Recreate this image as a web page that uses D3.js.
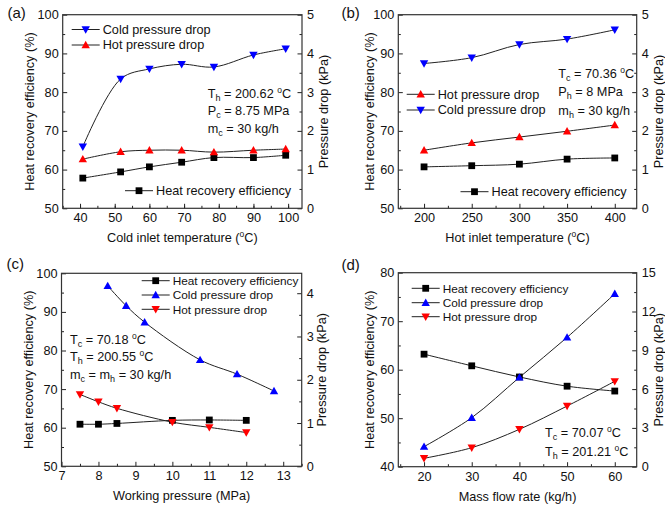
<!DOCTYPE html>
<html>
<head>
<meta charset="utf-8">
<script src="https://cdn.jsdelivr.net/npm/d3@7"></script>
<style>
  body { margin: 0; background: #fff; }
  svg { display: block; }
  text { font-family: 'Liberation Sans', Arial, sans-serif; fill: #111; }
</style>
</head>
<body>
<script>
// (a) cold inlet temperature
var aTemp = [40.8, 51.7, 60.0, 69.3, 78.6, 90.0, 99.3];
var aEff  = [57.8, 59.4, 60.7, 61.9, 63.1, 63.1, 63.7];
var aCold = [1.59, 3.34, 3.60, 3.72, 3.65, 3.96, 4.12];
var aHot  = [1.27, 1.46, 1.50, 1.50, 1.45, 1.50, 1.53];
var aXTicks = [40, 50, 60, 70, 80, 90, 100];

// (b) hot inlet temperature
var bTemp = [200, 250, 300, 350, 400];
var bEff  = [60.7, 61.0, 61.4, 62.7, 63.0];
var bCold = [3.74, 3.89, 4.23, 4.37, 4.61];
var bHot  = [1.50, 1.69, 1.84, 1.99, 2.15];
var bXTicks = [200, 250, 300, 350, 400];

// (c) working pressure
var cPres     = [7.5, 8, 8.5, 10, 11, 12];
var cPresCold = [8.25, 8.75, 9.25, 10.75, 11.75, 12.75];
var cEff  = [60.9, 60.9, 61.1, 61.9, 62.0, 61.9];
var cCold = [4.17, 3.71, 3.33, 2.46, 2.13, 1.74];
var cHot  = [1.66, 1.49, 1.34, 1.02, 0.90, 0.78];
var cXTicks = [7, 8, 9, 10, 11, 12, 13];

// (d) mass flow rate
var dFlow = [20, 30, 40, 50, 60];
var dEff  = [63.2, 60.8, 58.5, 56.6, 55.6];
var dCold = [1.55, 3.79, 6.91, 10.0, 13.37];
var dHot  = [0.65, 1.47, 2.89, 4.69, 6.6];
var dXTicks = [20, 30, 40, 50, 60];

var effTicks = [50, 60, 70, 80, 90, 100];
var effTicksD = [40, 50, 60, 70, 80];
var dpTicks = [0, 1, 2, 3, 4, 5];
var dpTicksC = [0, 1, 2, 3, 4];
var dpTicksD = [0, 3, 6, 9, 12, 15];

var BLUE = "#0000ff", RED = "#ff0000", BLACK = "#000";
var FS = 12.7;

var svg = d3.select("body").append("svg")
    .attr("width", 665)
    .attr("height", 505);

// text with sub/superscripts: parts are strings or {sub:..} / {sup:..}
function rich(g, x, y, parts, opts) {
  opts = opts || {};
  var t = g.append("text")
      .attr("x", x).attr("y", y)
      .attr("font-size", opts.size || FS)
      .attr("text-anchor", opts.anchor || "start");
  if (opts.rotate) t.attr("transform", "rotate(-90," + x + "," + y + ")");
  var shift = 0;
  parts.forEach(function(p) {
    var target = 0, size = null, s = p;
    if (typeof p === "object") {
      if ("sub" in p) { target = 3; size = 9; s = p.sub; }
      else { target = -5; size = 8.5; s = p.sup; }
    }
    var ts = t.append("tspan").attr("dy", target - shift).text(s);
    if (size) ts.attr("font-size", size);
    shift = target;
  });
  return t;
}

function marker(g, type, color, x, y) {
  var p;
  if (type === "square") p = "M-3.4,-3.4h6.8v6.8h-6.8Z";
  else if (type === "up") p = "M0,-4.2L4.2,3.2L-4.2,3.2Z";
  else p = "M0,4.2L4.2,-3.2L-4.2,-3.2Z";
  g.append("path")
      .attr("d", p)
      .attr("transform", "translate(" + x + "," + y + ")")
      .attr("fill", color);
}

function minorTicks(lo, hi, step, start) {
  var out = [];
  for (var v = start; v <= hi + 1e-9; v += step) if (v >= lo - 1e-9) out.push(+v.toFixed(4));
  return out;
}

function panel(c) {
  var g = svg.append("g");
  var x = d3.scaleLinear().domain(c.xDomain).range([c.box[0], c.box[1]]);
  var yl = d3.scaleLinear().domain(c.yDomain).range([c.box[3], c.box[2]]);
  var yr = d3.scaleLinear().domain(c.rDomain).range([c.box[3], c.box[2]]);

  // minor ticks
  g.append("g").attr("transform", "translate(0," + c.box[3] + ")")
      .call(d3.axisBottom(x).tickValues(minorTicks(c.xDomain[0], c.xDomain[1], c.xMinor[1], c.xMinor[0])).tickSize(-2.5).tickFormat(""));
  g.append("g").attr("transform", "translate(" + c.box[0] + ",0)")
      .call(d3.axisLeft(yl).tickValues(minorTicks(c.yDomain[0], c.yDomain[1], c.yMinor[1], c.yMinor[0])).tickSize(-2.5).tickFormat(""));
  g.append("g").attr("transform", "translate(" + c.box[1] + ",0)")
      .call(d3.axisRight(yr).tickValues(minorTicks(c.rDomain[0], c.rDomain[1], c.rMinor[1], c.rMinor[0])).tickSize(-2.5).tickFormat(""));

  // major ticks
  g.append("g").attr("transform", "translate(0," + c.box[3] + ")")
      .call(d3.axisBottom(x).tickValues(c.xTicks).tickSize(-4.5).tickPadding(5).tickFormat(d3.format("d")));
  g.append("g").attr("transform", "translate(" + c.box[0] + ",0)")
      .call(d3.axisLeft(yl).tickValues(c.yTicks).tickSize(-4.5).tickPadding(c.lPad).tickFormat(d3.format("d")));
  g.append("g").attr("transform", "translate(" + c.box[1] + ",0)")
      .call(d3.axisRight(yr).tickValues(c.rTicks).tickSize(-4.5).tickPadding(5).tickFormat(d3.format("d")));

  g.selectAll(".domain").remove();
  g.selectAll(".tick line").attr("stroke", "#222").attr("stroke-width", 1);
  g.selectAll(".tick text").attr("font-size", FS).attr("font-family", "'Liberation Sans', Arial, sans-serif").attr("fill", "#111");

  g.append("rect")
      .attr("x", c.box[0]).attr("y", c.box[2])
      .attr("width", c.box[1] - c.box[0]).attr("height", c.box[3] - c.box[2])
      .attr("fill", "none").attr("stroke", "#333").attr("stroke-width", 1.2);

  // axis titles (rotated ones: x is the baseline, glyphs sit to its left)
  rich(g, (c.box[0] + c.box[1]) / 2, c.box[3] + 34, c.xTitle, {anchor: "middle"});
  rich(g, c.box[0] - c.lTitle, (c.box[2] + c.box[3]) / 2, ["Heat recovery efficiency (%)"], {anchor: "middle", rotate: true});
  rich(g, c.box[1] + c.rTitle, (c.box[2] + c.box[3]) / 2, ["Pressure drop (kPa)"], {anchor: "middle", rotate: true});
  g.append("text").attr("x", c.label[0]).attr("y", c.label[1]).attr("font-size", 15).text(c.label[2]);

  var line = d3.line().curve(d3.curveCatmullRom.alpha(0.5));
  c.series.forEach(function(s) {
    var ys = s.right ? yr : yl;
    var pts = s.x.map(function(v, i) { return [x(v), ys(s.y[i])]; });
    g.append("path").attr("d", line(pts)).attr("fill", "none").attr("stroke", "#222").attr("stroke-width", 1);
  });
  c.series.forEach(function(s) {
    var ys = s.right ? yr : yl;
    s.x.forEach(function(v, i) { marker(g, s.marker, s.color, x(v), ys(s.y[i])); });
  });

  // legends
  c.legends.forEach(function(L) {
    L.items.forEach(function(it, i) {
      var yy = L.y[i];
      g.append("line").attr("x1", L.x).attr("x2", L.x + 28).attr("y1", yy).attr("y2", yy)
          .attr("stroke", "#222").attr("stroke-width", 1);
      marker(g, it.marker, it.color, L.x + 14, yy);
      g.append("text").attr("x", L.x + 31).attr("y", yy + 4.4)
          .attr("font-size", L.size || FS).text(it.label);
    });
  });

  // conditions
  c.notes.forEach(function(n, i) {
    rich(g, c.noteX, c.noteY[i] + 4.5, n);
  });
}

var effItem  = {label: "Heat recovery efficiency", marker: "square", color: BLACK};

panel({
  box: [62.7, 302, 14.7, 208.3],
  xDomain: [35, 104], yDomain: [50, 100], rDomain: [0, 5],
  xTicks: aXTicks, yTicks: effTicks, rTicks: dpTicks,
  xMinor: [35, 5], yMinor: [55, 10], rMinor: [0.5, 1],
  lPad: 4, lTitle: 29, rTitle: 26,
  xTitle: ["Cold inlet temperature (", {sup: "o"}, "C)"],
  label: [7.5, 18, "(a)"],
  series: [
    {x: aTemp, y: aEff, marker: "square", color: BLACK},
    {x: aTemp, y: aCold, right: true, marker: "down", color: BLUE},
    {x: aTemp, y: aHot, right: true, marker: "up", color: RED}
  ],
  legends: [
    {x: 71.7, y: [29.5, 45], items: [
      {label: "Cold pressure drop", marker: "down", color: BLUE},
      {label: "Hot pressure drop", marker: "up", color: RED}]},
    {x: 125, y: [190.7], items: [effItem]}
  ],
  noteX: 207.7, noteY: [93.3, 110.5, 128.3],
  notes: [
    ["T", {sub: "h"}, " = 200.62 ", {sup: "o"}, "C"],
    ["P", {sub: "c"}, " = 8.75 MPa"],
    ["m", {sub: "c"}, " = 30 kg/h"]
  ]
});

panel({
  box: [398.3, 636.7, 14.7, 208.3],
  xDomain: [173, 423], yDomain: [50, 100], rDomain: [0, 5],
  xTicks: bXTicks, yTicks: effTicks, rTicks: dpTicks,
  xMinor: [175, 50], yMinor: [55, 10], rMinor: [0.5, 1],
  lPad: 4, lTitle: 24.5, rTitle: 26,
  xTitle: ["Hot inlet temperature (", {sup: "o"}, "C)"],
  label: [341.5, 18, "(b)"],
  series: [
    {x: bTemp, y: bEff, marker: "square", color: BLACK},
    {x: bTemp, y: bCold, right: true, marker: "down", color: BLUE},
    {x: bTemp, y: bHot, right: true, marker: "up", color: RED}
  ],
  legends: [
    {x: 406.7, y: [94.3, 110], items: [
      {label: "Hot pressure drop", marker: "up", color: RED},
      {label: "Cold pressure drop", marker: "down", color: BLUE}]},
    {x: 460.5, y: [191.7], items: [effItem]}
  ],
  noteX: 558.3, noteY: [73, 91.7, 110],
  notes: [
    ["T", {sub: "c"}, " = 70.36 ", {sup: "o"}, "C"],
    ["P", {sub: "h"}, " = 8 MPa"],
    ["m", {sub: "h"}, " = 30 kg/h"]
  ]
});

panel({
  box: [61.5, 301.7, 273.3, 466.3],
  xDomain: [7, 13.5], yDomain: [50, 100], rDomain: [0, 4.46],
  xTicks: cXTicks, yTicks: effTicks, rTicks: dpTicksC,
  xMinor: [7.5, 1], yMinor: [55, 10], rMinor: [0.5, 1],
  lPad: 4, lTitle: 28.5, rTitle: 24.5,
  xTitle: ["Working pressure (MPa)"],
  label: [6.5, 269, "(c)"],
  series: [
    {x: cPres, y: cEff, marker: "square", color: BLACK},
    {x: cPresCold, y: cCold, right: true, marker: "up", color: BLUE},
    {x: cPres, y: cHot, right: true, marker: "down", color: RED}
  ],
  legends: [
    {x: 141.7, y: [280.7, 295, 309.3], size: 11.8, items: [
      effItem,
      {label: "Cold pressure drop", marker: "up", color: BLUE},
      {label: "Hot pressure drop", marker: "down", color: RED}]}
  ],
  noteX: 70, noteY: [339, 356.5, 374],
  notes: [
    ["T", {sub: "c"}, " = 70.18 ", {sup: "o"}, "C"],
    ["T", {sub: "h"}, " = 200.55 ", {sup: "o"}, "C"],
    ["m", {sub: "c"}, " = m", {sub: "h"}, " = 30 kg/h"]
  ]
});

panel({
  box: [398.3, 636.7, 272.7, 466.7],
  xDomain: [14.6, 64.6], yDomain: [40, 80], rDomain: [0, 15],
  xTicks: dXTicks, yTicks: effTicksD, rTicks: dpTicksD,
  xMinor: [15, 10], yMinor: [45, 10], rMinor: [1.5, 3],
  lPad: 4, lTitle: 24.5, rTitle: 26.5,
  xTitle: ["Mass flow rate (kg/h)"],
  label: [341.5, 269.5, "(d)"],
  series: [
    {x: dFlow, y: dEff, marker: "square", color: BLACK},
    {x: dFlow, y: dCold, right: true, marker: "up", color: BLUE},
    {x: dFlow, y: dHot, right: true, marker: "down", color: RED}
  ],
  legends: [
    {x: 411.7, y: [288.3, 302.7, 316.7], size: 11.8, items: [
      effItem,
      {label: "Cold pressure drop", marker: "up", color: BLUE},
      {label: "Hot pressure drop", marker: "down", color: RED}]}
  ],
  noteX: 545, noteY: [432, 451],
  notes: [
    ["T", {sub: "c"}, " = 70.07 ", {sup: "o"}, "C"],
    ["T", {sub: "h"}, " = 201.21 ", {sup: "o"}, "C"]
  ]
});
</script>
</body>
</html>
